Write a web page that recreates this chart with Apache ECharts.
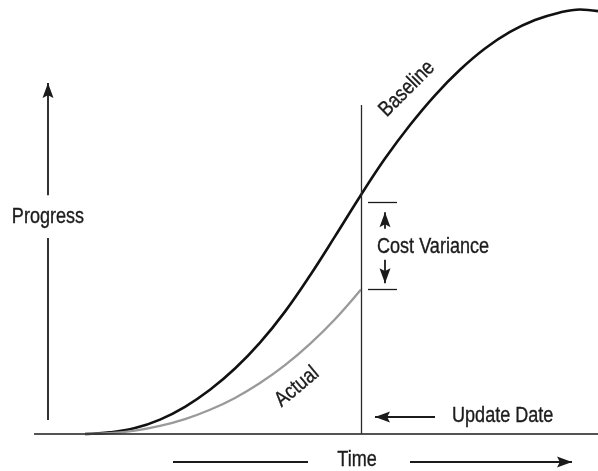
<!DOCTYPE html>
<html>
<head>
<meta charset="utf-8">
<script src="https://cdn.jsdelivr.net/npm/echarts@6/dist/echarts.min.js"></script>
<style>
  html, body { margin: 0; padding: 0; background: #ffffff; }
  #chart { width: 598px; height: 471px; }
</style>
</head>
<body>
<div id="chart"></div>
<script>
// Planned S-curve: cumulative progress (%) against time
const baselineTime     = [0, 5,   10,  15,  20,  25,   30,   35,   40,   45,   50,   55,   60,   65,   70,   75,   80,   85,   90,   95,   99,   102.6];
const baselineProgress = [0, 0.4, 1.4, 3.4, 6.4, 10.4, 15.4, 21.5, 28.8, 37.3, 46.5, 55.9, 64.8, 72.7, 79.7, 85.7, 90.7, 94.6, 97.4, 99.2, 99.9, 99.5];

// Actual progress recorded up to the update date
const actualTime     = [0, 5,   10,  15,  20,  25,  30,  35,   40,   45,   50,   55.2];
const actualProgress = [0, 0.2, 0.8, 1.9, 3.5, 5.7, 8.5, 12.0, 16.2, 21.2, 27.0, 34.0];

// Status date and the two ends of the cost-variance bracket
const updateDate = 55.2;
const varianceTop = 54.6;
const varianceBottom = 34.0;

const FONT = '"Liberation Sans", Arial, sans-serif';
const INK = '#1b1b1b';
const ARROW = 'path://M6,0 L12,16 L6,13 L0,16 Z';

const zip = (xs, ys) => xs.map((x, i) => [x, ys[i]]);

// straight guide segment between two data points, optionally ending in an arrowhead
function seg(a, b, opts) {
  opts = opts || {};
  const start = { coord: a, symbol: 'none' };
  const end = { coord: b, symbol: 'none' };
  if (opts.arrow) {
    end.symbol = ARROW;
    end.symbolSize = [11, 15];
    end.symbolOffset = [0, 7.5];
  }
  start.lineStyle = { color: opts.color || INK, width: opts.width || 1.8, type: 'solid' };
  return [start, end];
}

const chart = echarts.init(document.getElementById('chart'), null, { renderer: 'canvas' });

chart.setOption({
  animation: false,
  backgroundColor: '#ffffff',
  grid: { left: 0, right: 0, top: 9, bottom: 0 },
  xAxis: {
    type: 'value', min: -17, max: 102.6,
    axisLine: { show: false }, axisTick: { show: false },
    axisLabel: { show: false }, splitLine: { show: false }
  },
  yAxis: {
    type: 'value', min: -8.7, max: 100,
    axisLine: { show: false }, axisTick: { show: false },
    axisLabel: { show: false }, splitLine: { show: false }
  },
  series: [
    {
      name: 'Baseline',
      type: 'line',
      data: zip(baselineTime, baselineProgress),
      smooth: 0.4,
      showSymbol: false,
      silent: true,
      clip: false,
      lineStyle: { color: '#111111', width: 2.6 },
      z: 3
    },
    {
      name: 'Actual',
      type: 'line',
      data: zip(actualTime, actualProgress),
      smooth: 0.4,
      showSymbol: false,
      silent: true,
      clip: false,
      lineStyle: { color: '#9a9a9a', width: 2.3 },
      z: 4
    },
    {
      name: 'guides',
      type: 'line',
      data: [],
      silent: true,
      clip: false,
      markLine: {
        silent: true,
        animation: false,
        symbol: ['none', 'none'],
        label: { show: false },
        emphasis: { disabled: true },
        data: [
          // time axis
          seg([-10.2, 0], [102.6, 0], { width: 1.5 }),
          // update date
          seg([updateDate, 0], [updateDate, 77.4], { width: 1.3, color: '#2a2a2a' }),
          // cost variance bracket
          seg([56.6, varianceTop], [62.4, varianceTop], { width: 1.3 }),
          seg([56.6, varianceBottom], [62.4, varianceBottom], { width: 1.3 }),
          seg([60.0, 48.3], [60.0, 52.2], { arrow: true }),
          seg([60.0, 41.0], [60.0, 35.5], { arrow: true }),
          // progress direction
          seg([-7.4, 56.2], [-7.4, 82.6], { arrow: true }),
          seg([-7.4, 46.1], [-7.4, 3.3]),
          // update date pointer
          seg([70.0, 4.0], [58.0, 4.0], { arrow: true }),
          // time direction
          seg([17.6, -6.6], [44.6, -6.6]),
          seg([65.0, -6.6], [97.4, -6.6], { arrow: true })
        ]
      }
    }
  ]
});

// text annotations anchored in data coordinates, set in a condensed grotesque style
const notes = [
  { text: 'Progress',      at: [-7.4, 51.1] },
  { text: 'Time',          at: [54.4, -6.1] },
  { text: 'Update Date',   at: [73.4, 4.3],  align: 'left' },
  { text: 'Cost Variance', at: [58.4, 43.9], align: 'left' },
  { text: 'Baseline',      at: [64.4, 81.2], rotate: 45 },
  { text: 'Actual',        at: [42.4, 11.1], rotate: 40 }
];

chart.setOption({
  graphic: notes.map(function (n) {
    const pt = chart.convertToPixel({ gridIndex: 0 }, n.at);
    return {
      type: 'text',
      silent: true,
      x: pt[0],
      y: pt[1],
      rotation: (n.rotate || 0) * Math.PI / 180,
      scaleX: 0.84,
      style: {
        text: n.text,
        fontSize: 21.5,
        fontFamily: FONT,
        fill: INK,
        stroke: INK,
        lineWidth: 0.35,
        align: n.align || 'center',
        verticalAlign: 'middle'
      }
    };
  })
});
</script>
</body>
</html>
